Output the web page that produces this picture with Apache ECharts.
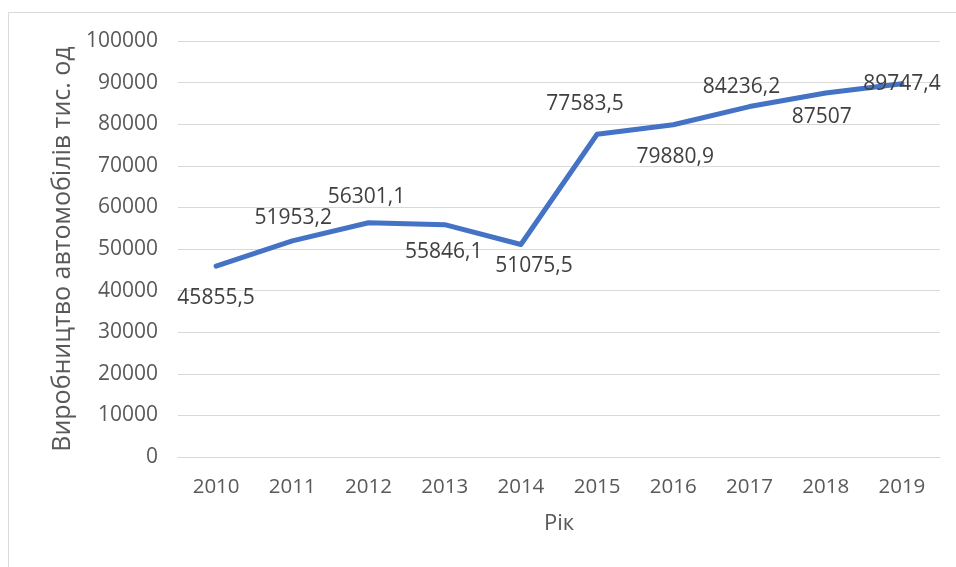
<!DOCTYPE html>
<html>
<head>
<meta charset="utf-8">
<script src="https://cdn.jsdelivr.net/npm/echarts@6/dist/echarts.min.js"></script>
<style>
html, body { margin: 0; padding: 0; background: #fff; }
#chart { width: 956px; height: 567px; }
</style>
</head>
<body>
<div id="chart"></div>
<script>
const years = ['2010', '2011', '2012', '2013', '2014', '2015', '2016', '2017', '2018', '2019'];
const production = [45855.5, 51953.2, 56301.1, 55846.1, 51075.5, 77583.5, 79880.9, 84236.2, 87507, 89747.4];
// where each data label sits relative to its point, px
const labelShiftX = [0, 1, -2, -1, 13, -12, 2, -8, -4, 0];
const labelShiftY = [32, -23, -26, 27, 21, -30, 32, -20, 24, 0];

const textColor = '#595959';
const font = '"Open Sans", sans-serif';

const chart = echarts.init(document.getElementById('chart'));

chart.setOption({
    animation: false,
    textStyle: { fontFamily: font },
    graphic: [
        {
            type: 'rect',
            shape: { x: 8.5, y: 12.5, width: 1000, height: 600 },
            style: { fill: 'none', stroke: '#d9d9d9', lineWidth: 1 },
            silent: true
        }
    ],
    grid: {
        left: 178,
        right: 16,
        top: 41,
        bottom: 110
    },
    xAxis: {
        type: 'category',
        data: years,
        name: 'Рік',
        nameLocation: 'middle',
        nameGap: 56,
        nameTextStyle: { color: textColor, fontSize: 22, fontFamily: font },
        axisLine: { show: true, lineStyle: { color: '#d9d9d9', width: 1 } },
        axisTick: { show: false },
        axisLabel: { color: textColor, fontSize: 20.5, fontFamily: font, margin: 20 }
    },
    yAxis: {
        type: 'value',
        min: 0,
        max: 100000,
        interval: 10000,
        name: 'Виробництво автомобілів тис. од',
        nameLocation: 'middle',
        nameGap: 101,
        nameTextStyle: { color: textColor, fontSize: 25, fontFamily: font },
        axisLine: { show: false },
        axisTick: { show: false },
        axisLabel: {
            color: textColor,
            fontSize: 21,
            fontFamily: font,
            margin: 20,
            formatter: v => String(v)
        },
        splitLine: { lineStyle: { color: '#d9d9d9', width: 1 } }
    },
    series: [
        {
            type: 'line',
            data: production.map((v, i) => ({
                value: v,
                label: { offset: [labelShiftX[i], labelShiftY[i]] }
            })),
            symbol: 'circle',
            symbolSize: 2,
            showSymbol: true,
            lineStyle: { color: '#4472C4', width: 5, cap: 'round', join: 'round' },
            itemStyle: { color: 'rgba(0,0,0,0)', borderWidth: 0 },
            label: {
                show: true,
                position: 'inside',
                color: '#404040',
                fontSize: 21,
                fontFamily: font,
                formatter: p => String(p.value).replace('.', ',')
            },
            z: 3
        }
    ]
});
</script>
</body>
</html>
